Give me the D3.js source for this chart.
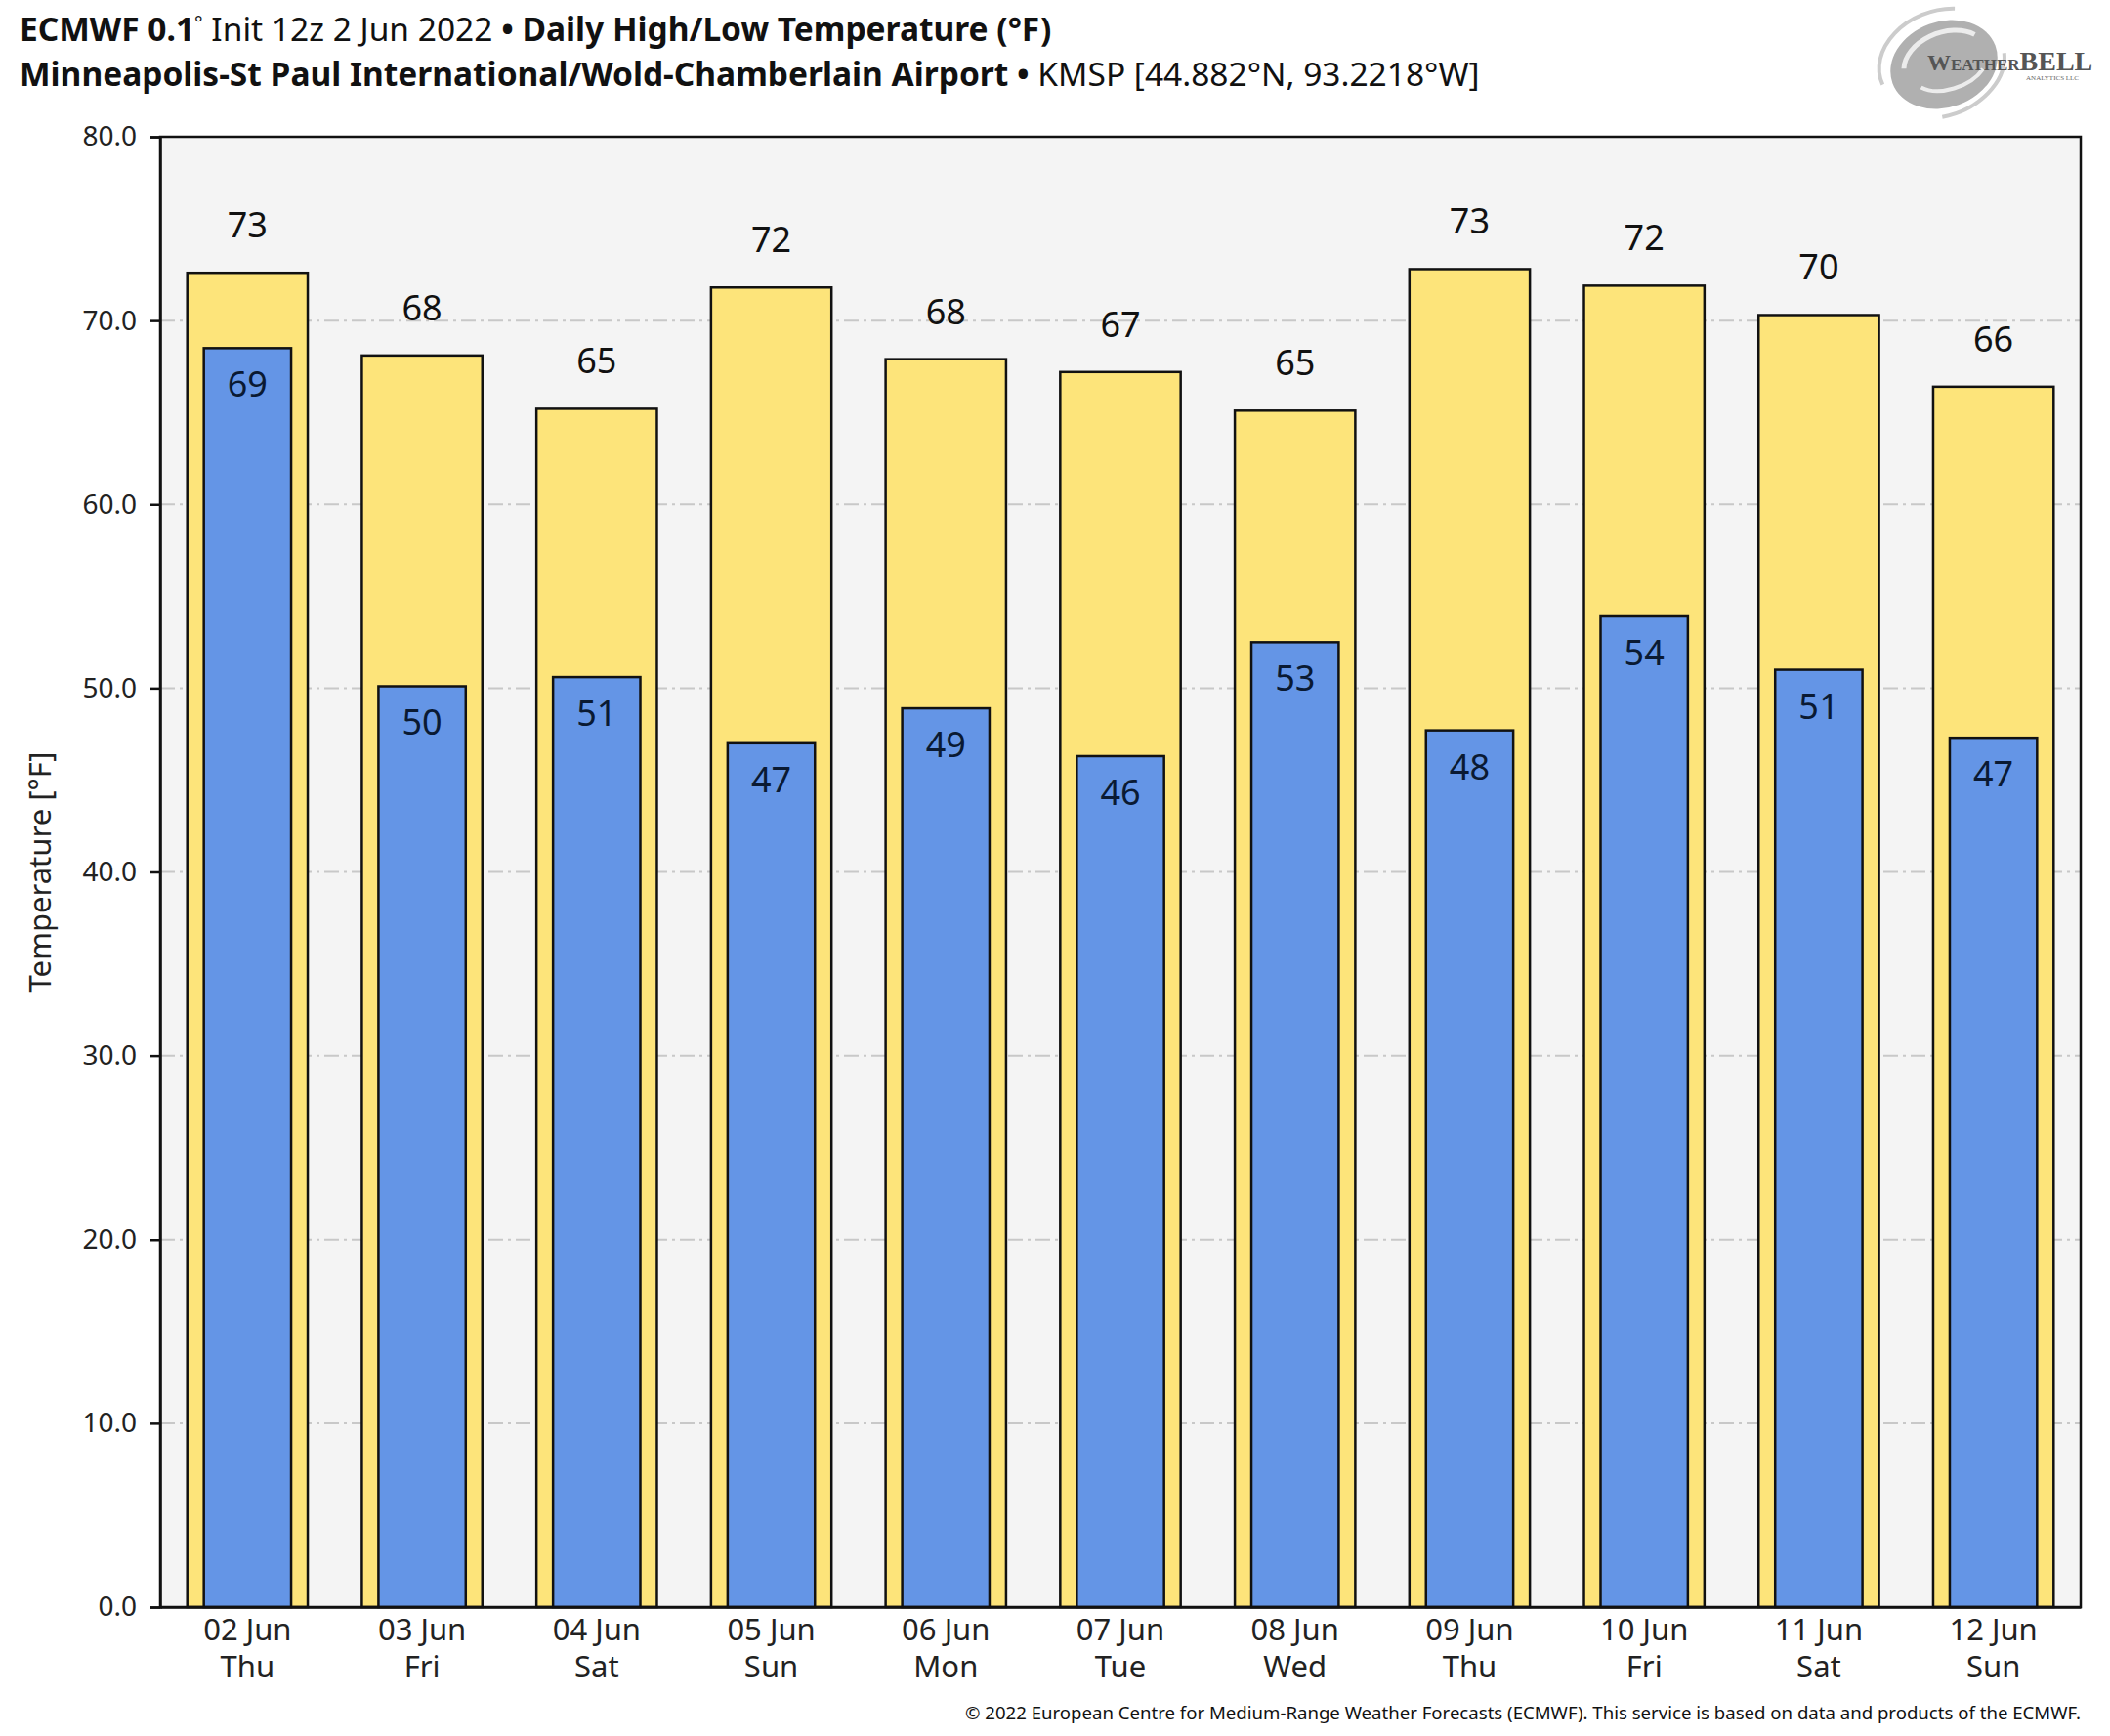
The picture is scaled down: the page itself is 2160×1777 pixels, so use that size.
<!DOCTYPE html>
<html>
<head>
<meta charset="utf-8">
<script src="https://cdn.jsdelivr.net/npm/d3@7"></script>
<style>
  body { margin: 0; background: #fff; }
  text { font-family: "Noto Sans", "Open Sans", sans-serif; }
</style>
</head>
<body>
<svg id="chart" width="2160" height="1777"></svg>
<script>
// data
const days = ["02 Jun", "03 Jun", "04 Jun", "05 Jun", "06 Jun", "07 Jun", "08 Jun", "09 Jun", "10 Jun", "11 Jun", "12 Jun"];
const weekdays = ["Thu", "Fri", "Sat", "Sun", "Mon", "Tue", "Wed", "Thu", "Fri", "Sat", "Sun"];
const highs = [72.6, 68.1, 65.2, 71.8, 67.9, 67.2, 65.1, 72.8, 71.9, 70.3, 66.4];
const lows = [68.5, 50.1, 50.6, 47.0, 48.9, 46.3, 52.5, 47.7, 53.9, 51.0, 47.3];
const yticks = [0, 10, 20, 30, 40, 50, 60, 70, 80];

const colors = {
  high: "#fde47a",
  low: "#6495e6",
  plot_bg: "#f4f4f4",
  grid: "#c8c8c8"
};

const svg = d3.select("#chart");
// plot box
const m_left = 164, m_right = 2130, m_top = 140, m_bottom = 1645;

const x = d3.scaleBand().domain(d3.range(days.length)).range([m_left, m_right]).padding(0);
const y = d3.scaleLinear().domain([0, 80]).range([m_bottom, m_top]);

// plot background
svg.append("rect")
  .attr("x", m_left).attr("y", m_top)
  .attr("width", m_right - m_left).attr("height", m_bottom - m_top)
  .attr("fill", colors.plot_bg);

// dash-dot grid
svg.append("g")
  .selectAll("line")
  .data(yticks.filter(d => d > 0))
  .join("line")
  .attr("x1", m_left).attr("x2", m_right)
  .attr("y1", d => y(d)).attr("y2", d => y(d))
  .attr("stroke", colors.grid)
  .attr("stroke-width", 2)
  .attr("stroke-dasharray", "15,5,3,5");

// high bars (wide, yellow)
const hw = x.bandwidth() * 0.69;
svg.append("g")
  .selectAll("rect")
  .data(highs)
  .join("rect")
  .attr("x", (d, i) => x(i) + (x.bandwidth() - hw) / 2)
  .attr("y", d => y(d))
  .attr("width", hw)
  .attr("height", d => y(0) - y(d))
  .attr("fill", colors.high)
  .attr("stroke", "#111")
  .attr("stroke-width", 2.5);

// low bars (narrow, blue)
const lw = x.bandwidth() * 0.5;
svg.append("g")
  .selectAll("rect")
  .data(lows)
  .join("rect")
  .attr("x", (d, i) => x(i) + (x.bandwidth() - lw) / 2)
  .attr("y", d => y(d))
  .attr("width", lw)
  .attr("height", d => y(0) - y(d))
  .attr("fill", colors.low)
  .attr("stroke", "#111")
  .attr("stroke-width", 2.5);

// value labels
svg.append("g")
  .selectAll("text")
  .data(highs)
  .join("text")
  .attr("x", (d, i) => x(i) + x.bandwidth() / 2)
  .attr("y", d => y(d) - 36)
  .attr("text-anchor", "middle")
  .attr("font-size", 36)
  .attr("fill", "#111")
  .text(d => Math.round(d));

svg.append("g")
  .selectAll("text")
  .data(lows)
  .join("text")
  .attr("x", (d, i) => x(i) + x.bandwidth() / 2)
  .attr("y", d => y(d) + 50)
  .attr("text-anchor", "middle")
  .attr("font-size", 36)
  .attr("fill", "#0a1a33")
  .text(d => Math.round(d));

// frame
svg.append("rect")
  .attr("x", m_left).attr("y", m_top)
  .attr("width", m_right - m_left).attr("height", m_bottom - m_top)
  .attr("fill", "none")
  .attr("stroke", "#111")
  .attr("stroke-width", 2.5);

// y axis
const yAxis = svg.append("g")
  .attr("transform", `translate(${m_left},0)`)
  .call(d3.axisLeft(y).tickValues(yticks).tickFormat(d3.format(".1f")).tickSize(10).tickPadding(14));
yAxis.select(".domain").attr("stroke", "#111").attr("stroke-width", 2.5);
yAxis.selectAll(".tick line").attr("stroke", "#111").attr("stroke-width", 2.5);
yAxis.selectAll(".tick text")
  .attr("font-size", 28)
  .attr("fill", "#222")
  .style("font-family", "Noto Sans");

// x axis, two-line labels
const xAxis = svg.append("g")
  .attr("transform", `translate(0,${m_bottom})`)
  .call(d3.axisBottom(x).tickSize(0).tickFormat(""));
xAxis.select(".domain").attr("stroke", "#111").attr("stroke-width", 2.5);
xAxis.selectAll(".tick").each(function(d) {
  const t = d3.select(this).append("text")
    .attr("text-anchor", "middle")
    .attr("font-size", 31)
    .attr("fill", "#222")
    .style("font-family", "Noto Sans");
  t.append("tspan").attr("x", 0).attr("y", 34).text(days[d]);
  t.append("tspan").attr("x", 0).attr("y", 72).text(weekdays[d]);
});

// y axis title
svg.append("text")
  .attr("transform", `translate(52,${(m_top + m_bottom) / 2}) rotate(-90)`)
  .attr("text-anchor", "middle")
  .attr("font-size", 31)
  .attr("fill", "#222")
  .text("Temperature [°F]");

// title lines
const t1 = svg.append("text").attr("x", 20).attr("y", 42).attr("font-size", 33.5).attr("fill", "#111");
t1.append("tspan").attr("font-weight", "bold").text("ECMWF 0.1");
t1.append("tspan").attr("font-size", 20).attr("dy", -11).text("°");
t1.append("tspan").attr("dy", 11).text(" Init 12z 2 Jun 2022 ");
t1.append("tspan").attr("font-weight", "bold").text("• Daily High/Low Temperature (°F)");

const t2 = svg.append("text").attr("x", 20).attr("y", 88).attr("font-size", 33.5).attr("fill", "#111");
t2.append("tspan").attr("font-weight", "bold").text("Minneapolis-St Paul International/Wold-Chamberlain Airport •");
t2.append("tspan").text(" KMSP [44.882°N, 93.2218°W]");

// footer
svg.append("text")
  .attr("x", m_right).attr("y", 1760)
  .attr("text-anchor", "end")
  .attr("font-size", 18.6)
  .attr("fill", "#111")
  .text("© 2022 European Centre for Medium-Range Weather Forecasts (ECMWF). This service is based on data and products of the ECMWF.");

// rough WeatherBELL logo
const logo = svg.append("g").attr("transform", "translate(1990,66) rotate(-20)");
logo.append("ellipse").attr("rx", 56).attr("ry", 44).attr("fill", "#b0b0b0");
logo.append("path").attr("d", "M-40,-10 A44,30 0 0 1 40,-18").attr("fill", "none").attr("stroke", "#ececec").attr("stroke-width", 5);
logo.append("path").attr("d", "M-30,14 A40,24 0 0 0 36,18").attr("fill", "none").attr("stroke", "#ececec").attr("stroke-width", 4);
logo.append("path").attr("d", "M-66,-2 A66,50 0 0 1 30,-50").attr("fill", "none").attr("stroke", "#cccccc").attr("stroke-width", 4);
logo.append("path").attr("d", "M-20,50 A68,50 0 0 0 62,10").attr("fill", "none").attr("stroke", "#cccccc").attr("stroke-width", 4);
const lt = svg.append("text").attr("x", 1973).attr("y", 72).attr("fill", "#555")
  .style("font-family", "Liberation Serif, DejaVu Serif, serif").attr("font-weight", "bold");
lt.append("tspan").attr("font-size", 24).text("W");
lt.append("tspan").attr("font-size", 17).text("EATHER");
lt.append("tspan").attr("font-size", 28).text("BELL");
svg.append("text").attr("x", 2128).attr("y", 82).attr("text-anchor", "end")
  .attr("font-size", 7).attr("fill", "#666")
  .style("font-family", "Liberation Serif, serif")
  .text("ANALYTICS LLC");
</script>
</body>
</html>
